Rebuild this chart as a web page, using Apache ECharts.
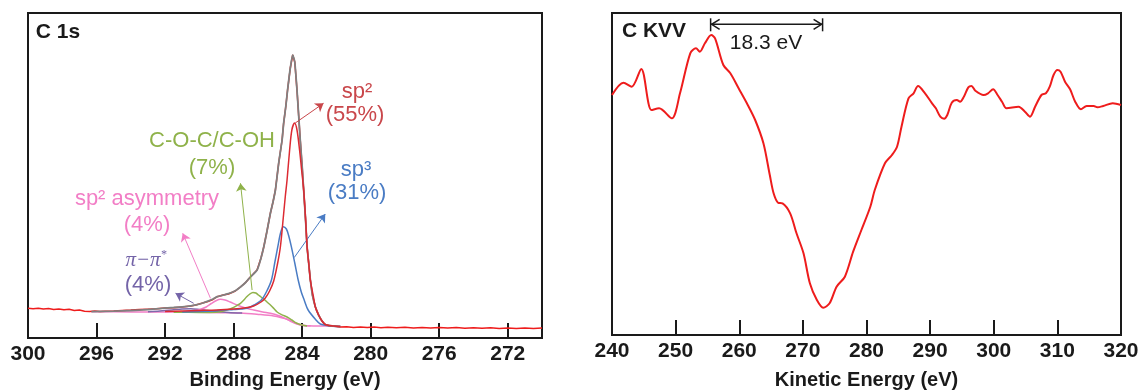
<!DOCTYPE html>
<html>
<head>
<meta charset="utf-8">
<script src="https://cdn.jsdelivr.net/npm/echarts@6/dist/echarts.min.js"></script>
<style>
html,body{margin:0;padding:0;background:#fff;}
#main{width:1139px;height:390px;}
</style>
</head>
<body>
<div id="main"></div>
<script>
// ---------- C 1s panel (binding energy, eV ; intensity, arb.) ----------
const c1sTicks = [300, 296, 292, 288, 284, 280, 276, 272];
const c1sRaw = [[300,29.7],[299.7,29.2],[299.4,29.8],[299.1,28.9],[298.8,29.4],[298.5,28.6],[298.2,29.1],[297.9,28.2],[297.6,28.7],[297.3,27.6],[297.0,27.9],[296.7,26.8],[296.4,26.5],[296.1,26.9],[295.8,26.4],[295.5,26.8],[295.0,27.1],[294.5,27.6],[294.0,27.9],[293.5,28.4],[293.0,28.8],[292.5,29.2],[292.0,29.9],[291.5,30.3],[291.0,31.0],[290.5,32.0],[290.2,33.0],[289.8,35],[289.5,36.5],[289.2,38.5],[288.96,41.3],[288.6,43],[288.3,44],[287.9,47],[287.6,51],[287.3,55.5],[287.02,61],[286.63,68],[286.4,80],[286.24,91],[286.05,107],[285.85,125],[285.7,136],[285.56,148],[285.37,174.7],[285.17,198],[285.08,214.7],[284.95,232],[284.85,248],[284.69,270],[284.55,283],[284.43,276],[284.30,248],[284.2,222],[284.11,198],[284.0,172],[283.91,148],[283.8,118],[283.71,91.3],[283.6,72],[283.52,58],[283.4,43],[283.23,31.3],[283.04,23],[282.84,17],[282.65,13.5],[282.4,12.3],[282.18,12],[281.77,11],[281.4,11.3],[281,10.6],[280.6,11.1],[280.2,10.4],[279.8,10.9],[279.4,10.3],[279,10.8],[278.5,10.2],[278,10.7],[277.5,10.1],[277,10.6],[276.5,10.0],[276,10.5],[275.5,9.9],[275,10.4],[274.5,9.8],[274,10.3],[273.5,9.7],[273,10.2],[272.5,9.6],[272,10.1],[271.5,9.6],[271,10.0],[270.5,9.5],[270,9.9]];
const c1sEnvelope = [[296.3,26.3],[295,26.8],[294,27.5],[293,28.5],[292.2,29.7],[291.5,30.5],[291,31.2],[290.5,32.2],[290.2,33.2],[289.8,35],[289.5,36.8],[289.2,39],[288.96,41.3],[288.6,43],[288.3,44.3],[287.9,47.3],[287.6,51],[287.3,55.5],[287.02,61],[286.63,68],[286.4,80],[286.24,91],[286.05,107],[285.85,125],[285.7,136],[285.56,148],[285.37,174.7],[285.17,198],[285.08,214.7],[284.95,232],[284.85,248],[284.69,270],[284.55,283],[284.43,276],[284.30,248],[284.2,222],[284.11,198],[284.0,172],[283.91,148],[283.8,118],[283.71,91.3],[283.6,72],[283.52,58],[283.4,43],[283.23,31.3],[283.04,23],[282.84,17],[282.65,13.5],[282.4,12.3],[282.18,12],[281.77,11.5]];
const c1sBackground = [[296.3,26.2],[294,26.1],[292.2,26],[290,25.7],[288.77,25.3],[287.6,25],[286.5,23.5],[285.66,22],[285.2,20.3],[284.88,18.7],[284.6,16.2],[284.30,14],[284,12.8],[283.71,12.3],[283,12],[282.18,12],[281.77,11.5]];
const c1sSp2 = [[292,26.5],[291,27],[290,27.5],[289,28],[288,29],[287.4,30],[286.83,32],[286.4,36],[286.15,40],[285.9,47],[285.66,57],[285.45,73],[285.27,91],[285.08,124],[284.98,142],[284.88,158],[284.73,188],[284.60,208],[284.44,215],[284.30,208],[284.15,188],[284.03,168],[283.91,148],[283.8,120],[283.71,91],[283.6,72],[283.52,58],[283.35,42],[283.23,31],[283.04,23],[282.84,17],[282.65,13.5],[282.18,12],[281.77,11.5]];
const c1sSp3 = [[291,26],[290,26.5],[289,27.3],[288,28.5],[287.6,29],[287.21,29.7],[286.8,33],[286.38,38],[286.09,46],[285.79,58],[285.59,76],[285.42,91.3],[285.26,105],[285.10,111.3],[284.92,109],[284.78,102],[284.63,91.3],[284.43,75],[284.23,58],[284.05,46],[283.88,38],[283.65,28],[283.19,18],[282.94,14],[282.36,12],[281.77,11.5]];
const c1sCOC = [[291.5,25.8],[290,25.6],[289.0,25.8],[288.77,26.3],[288.4,28],[288.07,30],[287.8,32.5],[287.6,34.7],[287.4,38],[287.25,41],[287.05,44],[286.87,45.5],[286.7,45],[286.55,43],[286.4,41],[286.24,39],[286.05,36],[285.85,33],[285.65,29.5],[285.46,26],[285.2,23.3],[284.88,21],[284.6,18],[284.34,15],[284.0,13],[283.71,12]];
const c1sAsym = [[290.8,26.2],[290.3,27.2],[290,28.3],[289.6,31],[289.3,34.5],[289.0,37.5],[288.77,38.7],[288.5,38],[288.2,36],[287.8,33],[287.4,30.5],[286.83,28],[286.3,26],[285.85,24.7],[285.4,22.5],[284.88,18.7],[284.4,15],[283.91,12.5],[283.5,12.2]];
const c1sPiPi = [[293,26.3],[292.3,27],[291.6,28],[291,29],[290.5,29.2],[290,28.5],[289.5,27.5],[289,26.5],[288.3,25.6],[287.5,25]];

// ---------- C KVV panel (kinetic energy, eV ; intensity, arb.) ----------
const kvvTicks = [240, 250, 260, 270, 280, 290, 300, 310, 320];
const kvvSpectrum = [[240.0,240],[241.8,252.3],[243.1,248.3],[244.6,266],[246.2,225],[247.4,226.7],[249.4,216.7],[250.7,242],[252.3,281.7],[253.2,286.7],[253.8,283.3],[254.6,291.7],[255.6,300],[256.2,296.7],[257.5,270],[258.6,261.7],[259.9,246.7],[261.2,231.7],[262.5,215],[263.8,191.7],[264.8,160],[265.4,141.7],[266.1,132.3],[266.8,131.7],[268.0,121.7],[269.0,101.7],[270.1,81.7],[271.1,51.7],[272.2,35],[273.2,27.3],[274.2,31.7],[275.3,48.3],[276.6,58.3],[277.9,83.3],[279.2,105],[280.6,128.3],[281.3,145],[282.9,171.7],[284.0,180],[284.8,188.3],[285.5,208.3],[286.6,236.7],[287.4,241.7],[288.1,249],[289.2,241.7],[290.3,231.7],[290.9,226.7],[291.6,218.3],[292.2,216.3],[292.7,220],[293.4,232.3],[294.2,235],[294.7,233.3],[295.3,238.3],[296.0,247.7],[296.5,249],[297.1,244.3],[298.4,240],[299.1,241.7],[299.9,245.7],[300.6,240],[301.3,233.3],[302.0,226.7],[303.9,228.3],[304.9,223.3],[305.7,218.3],[306.5,228.3],[307.5,240],[308.2,241.7],[308.8,248.3],[309.4,260],[310.0,265],[310.5,263.3],[311.2,253.3],[312.0,245.7],[312.8,233.3],[313.7,225.7],[314.6,229],[315.7,229],[316.3,227.7],[317.2,229],[318.7,231.7],[320.0,230]];
const kvvSplit = [255.5, 273.1]; // endpoints of the 18.3 eV marker

const FONT = '"Liberation Sans", Arial, sans-serif';
const INK = '#1a1a1a';

const chart = echarts.init(document.getElementById('main'), null, {renderer: 'canvas'});

function xAxisBase(extra) {
  return Object.assign({
    type: 'value',
    nameLocation: 'middle',
    nameTextStyle: {fontFamily: FONT, fontWeight: 'bold', fontSize: 20, color: INK},
    axisLine: {show: false},
    splitLine: {show: false}
  }, extra);
}
function yAxisBase(gi, max) {
  return {type: 'value', gridIndex: gi, min: 0, max: max, show: false, splitLine: {show: false}};
}
function line(name, data, color, width, extra) {
  return Object.assign({
    name: name, type: 'line', data: data, showSymbol: false, symbol: 'none',
    xAxisIndex: 0, yAxisIndex: 0, lineStyle: {color: color, width: width}, silent: true, z: 2
  }, extra || {});
}
function arrow(from, to, color) {
  return [{coord: from, lineStyle: {color: color, width: 1, type: 'solid'}}, {coord: to}];
}
const tickStyle = (vals) => ({show: true, inside: true, length: 15, lineStyle: {color: INK, width: 2}, customValues: vals});
const labelStyle = (vals) => ({fontFamily: FONT, fontWeight: 'bold', fontSize: 21, color: INK, margin: 6, showMinLabel: true, showMaxLabel: true, customValues: vals});

const option = {
  animation: false,
  backgroundColor: '#fff',
  grid: [
    {left: 28, right: 597, top: 13, bottom: 52, outerBoundsMode: 'none', containLabel: false, show: true, borderColor: INK, borderWidth: 2, backgroundColor: 'transparent'},
    {left: 612, right: 18, top: 13, bottom: 55, outerBoundsMode: 'none', containLabel: false, show: true, borderColor: INK, borderWidth: 2, backgroundColor: 'transparent'}
  ],
  xAxis: [
    xAxisBase({gridIndex: 0, min: 270, max: 300, inverse: true, name: 'Binding Energy (eV)', nameGap: 32,
      axisTick: tickStyle(c1sTicks), axisLabel: labelStyle(c1sTicks)}),
    xAxisBase({gridIndex: 1, min: 240, max: 320, interval: 10, name: 'Kinetic Energy (eV)', nameGap: 35,
      axisTick: tickStyle(kvvTicks), axisLabel: labelStyle(kvvTicks)})
  ],
  yAxis: [yAxisBase(0, 325), yAxisBase(1, 322)],
  series: [
    line('background', c1sBackground, '#f27ec6', 1.5, {smooth: 0.3}),
    line('pi-pi*', c1sPiPi, '#8068aa', 1.5, {smooth: 0.3}),
    line('sp2 asymmetry', c1sAsym, '#f27ec6', 1.5, {smooth: 0.3}),
    line('C-O-C/C-OH', c1sCOC, '#8fb24a', 1.5, {smooth: 0.3}),
    line('sp3', c1sSp3, '#4a7cc4', 1.5, {smooth: 0.3}),
    line('raw', c1sRaw, '#ee1c1c', 1.5, {z: 3}),
    line('envelope', c1sEnvelope, '#808080', 1.8, {smooth: 0.2, z: 4}),
    line('sp2', c1sSp2, '#dc2a32', 1.5, {smooth: 0.3, z: 5,
      markLine: {
        silent: true, symbol: ['none', 'arrow'], symbolSize: 8, animation: false,
        label: {show: false},
        data: [
          arrow([284.40, 215], [282.75, 234.7], '#c9474b'),
          arrow([286.92, 48], [287.60, 154.7], '#8fb24a'),
          arrow([284.46, 80.5], [282.65, 124], '#4a7cc4'),
          arrow([289.35, 39.7], [290.97, 104.7], '#f27ec6'),
          arrow([290.33, 34.7], [291.39, 44.7], '#7464a8')
        ]
      }}),
    line('C KVV', kvvSpectrum, '#ee1c1c', 2, {xAxisIndex: 1, yAxisIndex: 1, smooth: 0.3})
  ]
};
chart.setOption(option);

// ---------- annotations ----------
function txt(x, y, text, color, size, weight, extra) {
  return Object.assign({
    type: 'text', x: x, y: y, z: 100,
    style: {text: text, fill: color, font: (weight || 'normal') + ' ' + size + 'px ' + FONT, align: 'center', verticalAlign: 'middle'}
  }, extra || {});
}
const p1 = chart.convertToPixel({gridIndex: 1}, [kvvSplit[0], 310.7]);
const p2 = chart.convertToPixel({gridIndex: 1}, [kvvSplit[1], 310.7]);
const ay = p1[1];
const ls = {stroke: INK, lineWidth: 1.5, fill: 'none'};
const graphics = [
  txt(58, 32, 'C 1s', INK, 21, 'bold'),
  txt(654, 31, 'C KVV', INK, 21, 'bold'),
  txt(766, 43, '18.3 eV', INK, 21, 'normal'),
  {type: 'line', z: 100, shape: {x1: p1[0], y1: ay, x2: p2[0], y2: ay}, style: ls},
  {type: 'line', z: 100, shape: {x1: p1[0], y1: ay - 6, x2: p1[0], y2: ay + 7}, style: ls},
  {type: 'line', z: 100, shape: {x1: p2[0], y1: ay - 6, x2: p2[0], y2: ay + 7}, style: ls},
  {type: 'polyline', z: 100, shape: {points: [[p1[0] + 9, ay - 5], [p1[0] + 1, ay], [p1[0] + 9, ay + 5]]}, style: ls},
  {type: 'polyline', z: 100, shape: {points: [[p2[0] - 9, ay - 5], [p2[0] - 1, ay], [p2[0] - 9, ay + 5]]}, style: ls},
  txt(357, 92, 'sp²', '#c9474b', 22),
  txt(355, 115, '(55%)', '#c9474b', 22),
  txt(212, 141, 'C-O-C/C-OH', '#8fb24a', 22),
  txt(212, 168, '(7%)', '#8fb24a', 22),
  txt(356, 170, 'sp³', '#4a7cc4', 22),
  txt(357, 193, '(31%)', '#4a7cc4', 22),
  txt(147, 199, 'sp² asymmetry', '#f27ec6', 22),
  txt(147, 225, '(4%)', '#f27ec6', 22),
  {type: 'text', x: 146, y: 260, z: 100, style: {
    text: '{a|π−π}{s|*}', align: 'center', verticalAlign: 'middle',
    rich: {
      a: {fill: '#7464a8', font: 'italic 21px "Liberation Serif", "Times New Roman", serif', lineHeight: 22},
      s: {fill: '#7464a8', font: 'italic 12px "Liberation Serif", serif', lineHeight: 22, verticalAlign: 'top', padding: [0, 0, 10, 0]}
    }
  }},
  txt(148, 285, '(4%)', '#7464a8', 22)
];
chart.setOption({graphic: graphics});
</script>
</body>
</html>
